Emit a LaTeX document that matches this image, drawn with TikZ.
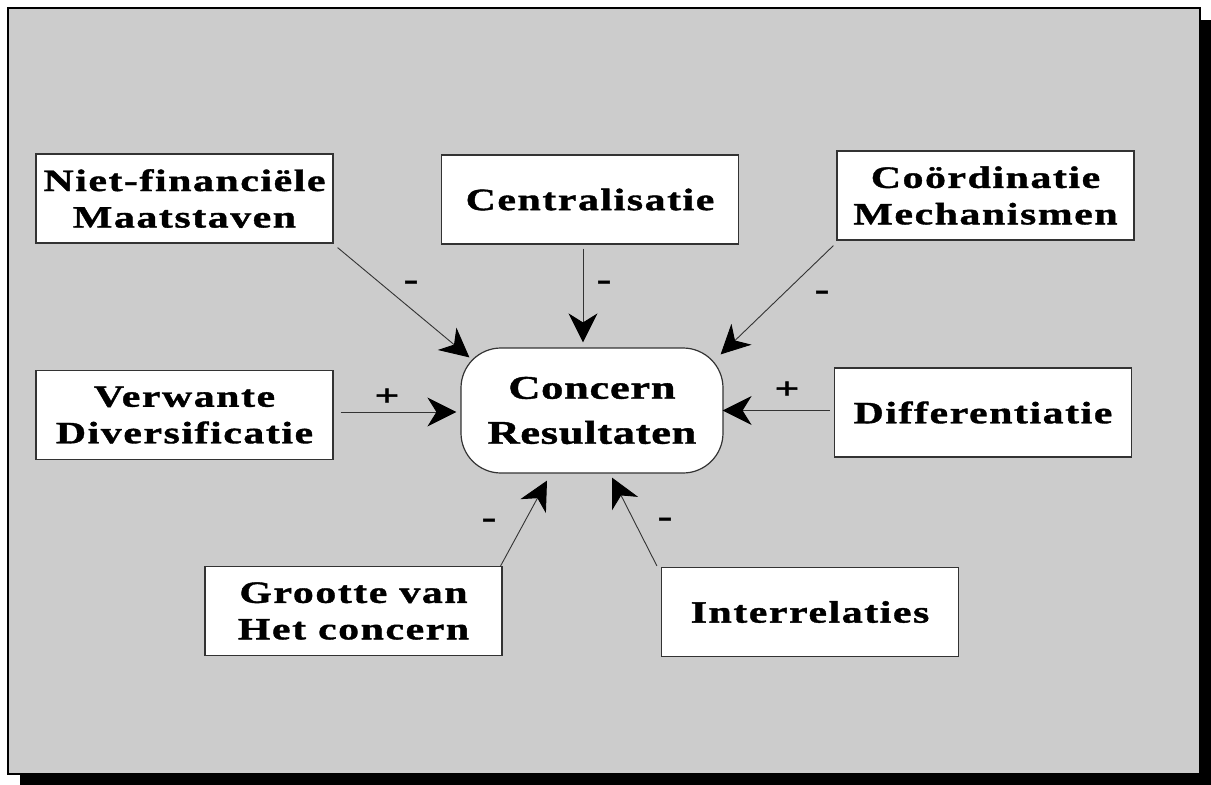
\documentclass[tikz,border=0pt]{standalone}
\usepackage{fontspec}
\newfontfamily\lblfont[LetterSpace=5,FakeStretch=1.35,FakeBold=1.2]{Liberation Serif Bold}
\newfontfamily\hubfont[LetterSpace=2,FakeStretch=1.35,FakeBold=1.2]{Liberation Serif Bold}
\newfontfamily\signfont[FakeStretch=1.45,FakeBold=1.5]{Liberation Serif Bold}
\usetikzlibrary{arrows.meta}
\definecolor{bggray}{HTML}{CCCCCC}
\definecolor{edgec}{HTML}{333333}
\begin{document}
\begin{tikzpicture}[x=1pt,y=-1pt,
  box/.style={draw=edgec,line width=1.2pt,fill=white,minimum width=297pt,minimum height=89pt,inner sep=0pt,align=center,font=\lblfont\fontsize{31}{36.5}\selectfont},
  hub/.style={draw=edgec,line width=1.2pt,fill=white,rounded corners=40pt,minimum width=262pt,minimum height=125pt,inner sep=0pt,align=center,font=\hubfont\fontsize{33}{45}\selectfont},
  arr/.style={draw=edgec,line width=0.9pt,-{Stealth[length=29pt,width=29pt,inset=9pt,color=black]}},
  sign/.style={inner sep=0pt,font=\signfont\fontsize{30}{36}\selectfont}]
\useasboundingbox (0,0) rectangle (1211,785);
\fill[black] (20,20) rectangle (1211,785);
\draw[fill=bggray,line width=2.5pt] (8,8) rectangle (1200,774);

\node[box] (niet) at (184.5,198.5) {Niet-financiële\\Maatstaven};
\node[box] (central) at (590,199.5) {Centralisatie};
\node[box] (coord) at (985.5,195.5) {Coördinatie\\Mechanismen};
\node[box] (verw) at (184.5,415) {Verwante\\Diversificatie};
\node[box] (diff) at (983,412.5) {Differentiatie};
\node[box] (groot) at (353.5,611) {Grootte van\\Het concern};
\node[box] (inter) at (810,612) {Interrelaties};
\node[hub] (hub) at (592,410.5) {Concern\\Resultaten};

\draw[arr] ([shift={(4,4)}]niet.south east) -- ([shift={(9,10)}]hub.north west);
\draw[arr] ([shift={(-7,4)}]central.south) -- ([shift={(-9,-5)}]hub.north);
\draw[arr] ([shift={(-3,5)}]coord.south west) -- ([shift={(-3,7)}]hub.north east);
\draw[arr] ([shift={(7,-3)}]verw.east) -- ([shift={(-4,1.5)}]hub.west);
\draw[arr] ([shift={(-4,-2)}]diff.west) -- ([shift={(-1,0)}]hub.east);
\draw[arr] ([shift={(-2,0)}]groot.north east) -- ([shift={(-45,7)}]hub.south);
\draw[arr] ([shift={(-4,-1)}]inter.north west) -- ([shift={(20,4)}]hub.south);

\node[sign] (s1) at (411,285) {-};
\node[sign] (s2) at (604,285) {-};
\node[sign] (s3) at (822,295) {-};
\node[sign] (s4) at (387,397) {+};
\node[sign] (s5) at (787,390) {+};
\node[sign] (s6) at (489,523) {-};
\node[sign] (s7) at (665,522) {-};
\end{tikzpicture}
\end{document}
